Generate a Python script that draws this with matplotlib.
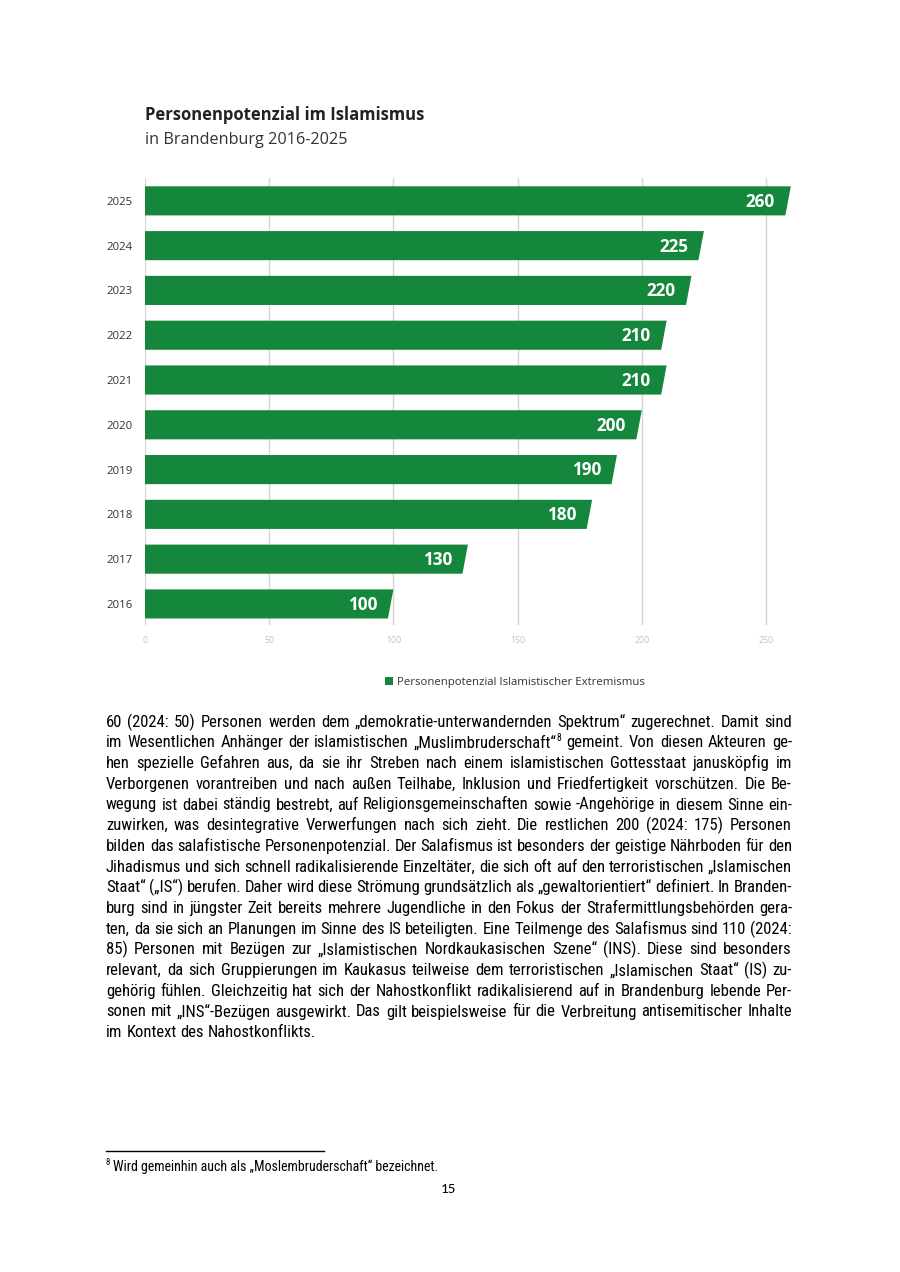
#!/usr/bin/env python3
"""
Personenpotenzial im Islamismus (Brandenburg 2016-2025) - report page with
horizontal bar chart, justified body text and footnote.
"""

import matplotlib
matplotlib.use("Agg")
import matplotlib.pyplot as plt
from matplotlib.patches import Polygon, Patch
from matplotlib import font_manager as fm

# =============================================================================
# DATA
# =============================================================================

YEARS = ["2016", "2017", "2018", "2019", "2020", "2021", "2022", "2023", "2024", "2025"]
VALUES = [100, 130, 180, 190, 200, 210, 210, 220, 225, 260]
X_TICKS = [0, 50, 100, 150, 200, 250]

TITLE = "Personenpotenzial im Islamismus"
SUBTITLE = "in Brandenburg 2016-2025"
LEGEND_LABEL = "Personenpotenzial Islamistischer Extremismus"

# "{8}" marks a superscript footnote number
BODY_LINES = [
    "60 (2024: 50) Personen werden dem „demokratie-unterwandernden Spektrum“ zugerechnet. Damit sind",
    "im Wesentlichen Anhänger der islamistischen „Muslimbruderschaft“{8} gemeint. Von diesen Akteuren ge-",
    "hen spezielle Gefahren aus, da sie ihr Streben nach einem islamistischen Gottesstaat janusköpfig im",
    "Verborgenen vorantreiben und nach außen Teilhabe, Inklusion und Friedfertigkeit vorschützen. Die Be-",
    "wegung ist dabei ständig bestrebt, auf Religionsgemeinschaften sowie -Angehörige in diesem Sinne ein-",
    "zuwirken, was desintegrative Verwerfungen nach sich zieht. Die restlichen 200 (2024: 175) Personen",
    "bilden das salafistische Personenpotenzial. Der Salafismus ist besonders der geistige Nährboden für den",
    "Jihadismus und sich schnell radikalisierende Einzeltäter, die sich oft auf den terroristischen „Islamischen",
    "Staat“ („IS“) berufen. Daher wird diese Strömung grundsätzlich als „gewaltorientiert“ definiert. In Branden-",
    "burg sind in jüngster Zeit bereits mehrere Jugendliche in den Fokus der Strafermittlungsbehörden gera-",
    "ten, da sie sich an Planungen im Sinne des IS beteiligten. Eine Teilmenge des Salafismus sind 110 (2024:",
    "85) Personen mit Bezügen zur „Islamistischen Nordkaukasischen Szene“ (INS). Diese sind besonders",
    "relevant, da sich Gruppierungen im Kaukasus teilweise dem terroristischen „Islamischen Staat“ (IS) zu-",
    "gehörig fühlen. Gleichzeitig hat sich der Nahostkonflikt radikalisierend auf in Brandenburg lebende Per-",
    "sonen mit „INS“-Bezügen ausgewirkt. Das gilt beispielsweise für die Verbreitung antisemitischer Inhalte",
    "im Kontext des Nahostkonflikts.",
]
FOOTNOTE = "Wird gemeinhin auch als „Moslembruderschaft“ bezeichnet."
FOOTNOTE_NO = "8"
PAGE_NO = "15"

# =============================================================================
# STYLE
# =============================================================================

W, H = 900, 1272
GREEN = "#15873d"
DARK = "#333333"

installed = {f.name for f in fm.fontManager.ttflist}


def pick_body_font():
    """Narrow sans for the body text (Arial Narrow look-alike)."""
    for name in ["Liberation Sans Narrow", "Arial Narrow", "Roboto Condensed",
                 "Open Sans Condensed", "DejaVu Sans Condensed"]:
        if name in installed:
            return {"family": name}, 12.0
    for f in fm.fontManager.ttflist:
        st = f.stretch
        cond = (isinstance(st, str) and "condensed" in st) or \
            (isinstance(st, int) and st < 500)
        if cond and f.name in ("Roboto", "Open Sans", "DejaVu Sans", "Noto Sans"):
            return {"family": f.name, "stretch": "condensed"}, 12.0
    return {"family": "Liberation Sans"}, 10.2


BODY_PROPS, BODY_SIZE = pick_body_font()
PAGE_FONT = "Carlito" if "Carlito" in installed else "Lato"
CHART_FONT = "Open Sans"


def fx(px):
    return px / W


def fy(py):
    return 1 - py / H


# =============================================================================
# Helpers
# =============================================================================

def split_word(word):
    """Return list of (text, superscript?) segments."""
    segs = []
    while "{" in word:
        pre, rest = word.split("{", 1)
        sup, word = rest.split("}", 1)
        if pre:
            segs.append((pre, False))
        segs.append((sup, True))
    if word:
        segs.append((word, False))
    return segs


def draw_line(fig, renderer, line, x0, x1, baseline, justify=True):
    words = [split_word(w) for w in line.split(" ")]
    items = []
    widths = []
    for segs in words:
        texts = []
        w = 0
        for txt, sup in segs:
            size = BODY_SIZE * 0.58 if sup else BODY_SIZE
            t = fig.text(0, 0, txt, fontsize=size, va="baseline", ha="left",
                         color="black", **BODY_PROPS)
            tw = t.get_window_extent(renderer).width
            texts.append((t, sup, w))
            w += tw
        items.append(texts)
        widths.append(w)

    probe_a = fig.text(0, 0, "a a", fontsize=BODY_SIZE, **BODY_PROPS)
    probe_b = fig.text(0, 0, "aa", fontsize=BODY_SIZE, **BODY_PROPS)
    space = (probe_a.get_window_extent(renderer).width
             - probe_b.get_window_extent(renderer).width)
    probe_a.remove()
    probe_b.remove()

    if justify and len(items) > 1:
        gap = (x1 - x0 - sum(widths)) / (len(items) - 1)
    else:
        gap = space

    x = x0
    for texts, w in zip(items, widths):
        for t, sup, off in texts:
            dy = 6.5 if sup else 0
            t.set_position((fx(x + off), fy(baseline - dy)))
        x += w + gap


# =============================================================================
# Figure
# =============================================================================

fig = plt.figure(figsize=(W / 100, H / 100), dpi=100)
fig.patch.set_facecolor("white")

# ---- titles ----------------------------------------------------------------
fig.text(fx(145), fy(120), TITLE, family=CHART_FONT, fontweight="bold",
         fontsize=12, color="#222222", va="baseline")
fig.text(fx(145), fy(144), SUBTITLE, family=CHART_FONT, fontsize=11.7,
         color=DARK, va="baseline")

# ---- chart -------------------------------------------------------------------
X_MAX = 265
ax = fig.add_axes([fx(145), fy(625), (766 - 145) / 250 * X_MAX / W, (625 - 178) / H])
ax.set_xlim(0, X_MAX)
ax.set_ylim(-0.47, len(YEARS) - 0.49)

half = 0.325
slant = 2.2
for i, v in enumerate(VALUES):
    poly = Polygon([(0, i - half), (v - slant, i - half), (v, i + half), (0, i + half)],
                   closed=True, facecolor=GREEN, edgecolor="none", zorder=3)
    ax.add_patch(poly)
    ax.text(v - 6.4, i - 0.02, str(v), ha="right", va="center", color="white",
            family=CHART_FONT, fontweight="bold", fontsize=12.3, zorder=4)

ax.set_xticks(X_TICKS)
ax.set_xticklabels([str(t) for t in X_TICKS], family=CHART_FONT)
ax.set_yticks(range(len(YEARS)))
ax.set_yticklabels(YEARS, family=CHART_FONT)
ax.tick_params(axis="x", length=0, pad=8, labelsize=6.3, labelcolor="#c4c4c4")
ax.tick_params(axis="y", length=0, pad=9, labelsize=8.2, labelcolor=DARK)
ax.grid(axis="x", color="#d6d6d6", linewidth=1.0, zorder=0)
ax.grid(axis="y", visible=False)
for s in ax.spines.values():
    s.set_visible(False)

fig.legend(handles=[Patch(facecolor=GREEN, edgecolor="none", label=LEGEND_LABEL)],
           loc="center", bbox_to_anchor=(fx(515), fy(682)), frameon=False,
           handlelength=0.7, handleheight=0.7, handletextpad=0.35,
           prop={"family": CHART_FONT, "size": 8.2}, labelcolor=DARK)

# ---- body text ---------------------------------------------------------------
renderer = fig.canvas.get_renderer()
LEFT, RIGHT = 106, 792
for k, line in enumerate(BODY_LINES):
    draw_line(fig, renderer, line, LEFT, RIGHT, 726.7 + k * 20.7,
              justify=(k < len(BODY_LINES) - 1))

# ---- footnote ------------------------------------------------------------------
fig.add_artist(plt.Line2D([fx(106), fx(324)], [fy(1151), fy(1151)],
                          color="black", linewidth=1.0))
fig.text(fx(106), fy(1165), FOOTNOTE_NO, fontsize=6.3, va="baseline",
         color="black", **BODY_PROPS)
fig.text(fx(113), fy(1171.5), FOOTNOTE, fontsize=BODY_SIZE * 0.835, va="baseline",
         color="black", **BODY_PROPS)

fig.text(fx(448), fy(1193), PAGE_NO, family=PAGE_FONT, fontsize=11,
         ha="center", va="baseline", color="black")

fig.savefig("out.png", dpi=100, facecolor="white")
